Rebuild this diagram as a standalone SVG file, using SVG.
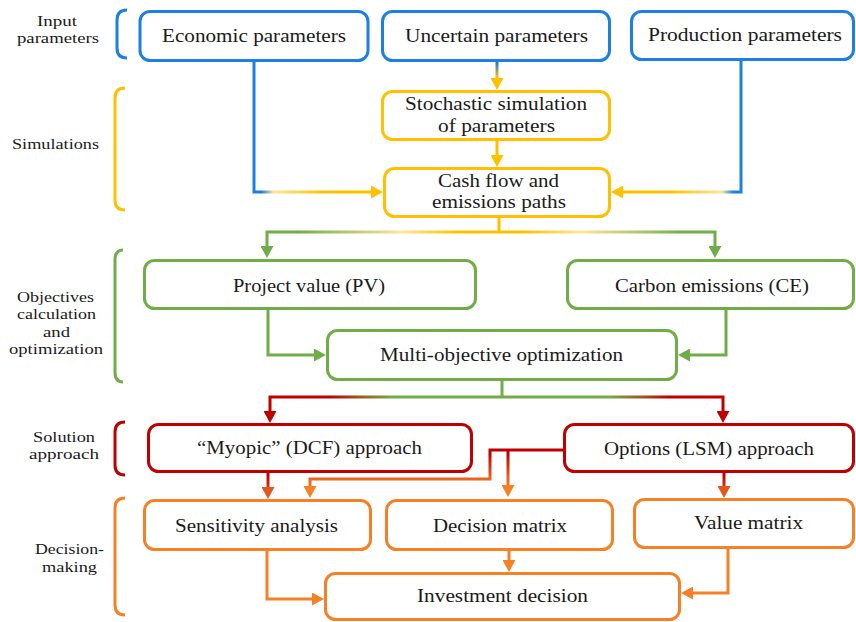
<svg xmlns="http://www.w3.org/2000/svg" width="856" height="622" viewBox="0 0 856 622">
<style>
.box{fill:#fff;stroke-width:3}
.b{stroke:#1C7FE3}.y{stroke:#FFC000}.g{stroke:#70AD47}.r{stroke:#C00000}.o{stroke:#F58025}
.t{font-family:"Liberation Serif","Times New Roman",serif;font-size:19px;fill:#1a1a1a;text-anchor:middle}
.l{font-family:"Liberation Serif","Times New Roman",serif;font-size:15px;fill:#1a1a1a;text-anchor:middle}
.br{fill:none;stroke-width:3}
.c{fill:none;stroke-width:3}
</style>
<defs>
<marker id="aY" markerUnits="userSpaceOnUse" markerWidth="12" markerHeight="13" refX="5" refY="6.5" orient="auto-start-reverse"><path d="M0,0 L12,6.5 L0,13 z" fill="#FFC000"/></marker>
<marker id="aG" markerUnits="userSpaceOnUse" markerWidth="12" markerHeight="13" refX="5" refY="6.5" orient="auto-start-reverse"><path d="M0,0 L12,6.5 L0,13 z" fill="#70AD47"/></marker>
<marker id="aR" markerUnits="userSpaceOnUse" markerWidth="12" markerHeight="13" refX="5" refY="6.5" orient="auto-start-reverse"><path d="M0,0 L12,6.5 L0,13 z" fill="#C00000"/></marker>
<marker id="aO" markerUnits="userSpaceOnUse" markerWidth="12" markerHeight="13" refX="5" refY="6.5" orient="auto-start-reverse"><path d="M0,0 L12,6.5 L0,13 z" fill="#F58025"/></marker>
<marker id="aRO" markerUnits="userSpaceOnUse" markerWidth="12" markerHeight="13" refX="5" refY="6.5" orient="auto-start-reverse"><path d="M0,0 L12,6.5 L0,13 z" fill="#E4561C"/></marker>
<linearGradient id="gEcon" gradientUnits="userSpaceOnUse" x1="254" y1="0" x2="383" y2="0">
<stop offset="0.06" stop-color="#1C7FE3"/><stop offset="0.15" stop-color="#FFE699"/><stop offset="0.55" stop-color="#FFC000"/></linearGradient>
<linearGradient id="gProd" gradientUnits="userSpaceOnUse" x1="741" y1="0" x2="611" y2="0">
<stop offset="0.06" stop-color="#1C7FE3"/><stop offset="0.15" stop-color="#FFE699"/><stop offset="0.55" stop-color="#FFC000"/></linearGradient>
<linearGradient id="gUnc" gradientUnits="userSpaceOnUse" x1="0" y1="61" x2="0" y2="84">
<stop offset="0.1" stop-color="#1C7FE3"/><stop offset="0.7" stop-color="#FFC000"/></linearGradient>
<linearGradient id="gCash" gradientUnits="userSpaceOnUse" x1="267" y1="0" x2="715" y2="0">
<stop offset="0.07" stop-color="#70AD47"/><stop offset="0.3" stop-color="#FFE699"/><stop offset="0.43" stop-color="#FFC000"/><stop offset="0.57" stop-color="#FFC000"/><stop offset="0.7" stop-color="#FFE699"/><stop offset="0.93" stop-color="#70AD47"/></linearGradient>
<linearGradient id="gMulti" gradientUnits="userSpaceOnUse" x1="270" y1="0" x2="723" y2="0">
<stop offset="0.13" stop-color="#C00000"/><stop offset="0.2" stop-color="#9C5A1E"/><stop offset="0.27" stop-color="#70AD47"/><stop offset="0.75" stop-color="#70AD47"/><stop offset="0.82" stop-color="#9C5A1E"/><stop offset="0.88" stop-color="#C00000"/></linearGradient>
<linearGradient id="gRO" gradientUnits="userSpaceOnUse" x1="0" y1="473" x2="0" y2="495">
<stop offset="0.1" stop-color="#C00000"/><stop offset="1" stop-color="#E4561C"/></linearGradient>
<linearGradient id="gOpt" gradientUnits="userSpaceOnUse" x1="0" y1="450" x2="0" y2="494">
<stop offset="0.1" stop-color="#C00000"/><stop offset="0.6" stop-color="#E8601E"/><stop offset="1" stop-color="#F58025"/></linearGradient>
</defs>

<g id="brackets">
<path class="br b" d="M127,10 Q117,10 117,20 L117,48 Q117,58 127,58"/>
<path class="br y" d="M125,88 Q115,88 115,98 L115,200 Q115,210 125,210"/>
<path class="br g" d="M123,250 Q115,250 115,260 L115,372 Q115,382 123,382"/>
<path class="br r" d="M125,422 Q115,422 115,432 L115,465 Q115,475 125,475"/>
<path class="br o" d="M125,498 Q115,498 115,508 L115,605 Q115,615 125,615"/>
</g>

<g id="labels">
<text class="l" x="57" y="26" textLength="40" lengthAdjust="spacingAndGlyphs">Input</text>
<text class="l" x="58" y="43" textLength="82" lengthAdjust="spacingAndGlyphs">parameters</text>
<text class="l" x="55.5" y="149" textLength="87" lengthAdjust="spacingAndGlyphs">Simulations</text>
<text class="l" x="55.5" y="302" textLength="77" lengthAdjust="spacingAndGlyphs">Objectives</text>
<text class="l" x="56.5" y="319" textLength="79" lengthAdjust="spacingAndGlyphs">calculation</text>
<text class="l" x="56.5" y="337" textLength="27" lengthAdjust="spacingAndGlyphs">and</text>
<text class="l" x="56" y="354" textLength="94" lengthAdjust="spacingAndGlyphs">optimization</text>
<text class="l" x="64" y="442" textLength="62" lengthAdjust="spacingAndGlyphs">Solution</text>
<text class="l" x="64" y="459" textLength="70" lengthAdjust="spacingAndGlyphs">approach</text>
<text class="l" x="69.5" y="554" textLength="69" lengthAdjust="spacingAndGlyphs">Decision-</text>
<text class="l" x="69.5" y="572" textLength="55" lengthAdjust="spacingAndGlyphs">making</text>
</g>

<g id="connectors">
<path class="c" stroke="url(#gEcon)" d="M254,61 V192 H376" marker-end="url(#aY)"/>
<path class="c" stroke="url(#gProd)" d="M741,60 V192 H618" marker-end="url(#aY)"/>
<path class="c" stroke="url(#gUnc)" d="M497,61 V83" marker-end="url(#aY)"/>
<path class="c y" d="M497,141 V160" marker-end="url(#aY)"/>
<path class="c" stroke="url(#gCash)" d="M499,218 V232"/>
<path class="c" stroke="url(#gCash)" d="M267,251 V232 H715 V251" marker-start="url(#aG)" marker-end="url(#aG)"/>
<path class="c g" d="M268,310 V355 H319" marker-end="url(#aG)"/>
<path class="c g" d="M726,310 V355 H685" marker-end="url(#aG)"/>
<path class="c" stroke="url(#gMulti)" d="M502,381 V397"/>
<path class="c" stroke="url(#gMulti)" d="M270,416 V397 H723 V416" marker-start="url(#aR)" marker-end="url(#aR)"/>
<path class="c" stroke="url(#gRO)" d="M268,473 V492" marker-end="url(#aRO)"/>
<path class="c" stroke="url(#gRO)" d="M724,473 V491" marker-end="url(#aRO)"/>
<path class="c" stroke="url(#gOpt)" d="M563,450 H490 V479 H310 V491" marker-end="url(#aO)"/>
<path class="c" stroke="url(#gOpt)" d="M508,450 V490" marker-end="url(#aO)"/>
<path class="c o" d="M267,551 V599 H317" marker-end="url(#aO)"/>
<path class="c o" d="M509,551 V565" marker-end="url(#aO)"/>
<path class="c o" d="M728,549 V593 H688" marker-end="url(#aO)"/>
</g>

<g id="economic"><rect class="box b" x="140" y="11.5" width="228" height="49" rx="10"/><text class="t" x="254" y="42" textLength="184" lengthAdjust="spacingAndGlyphs">Economic parameters</text></g>
<g id="uncertain"><rect class="box b" x="382.5" y="11.5" width="227" height="49" rx="10"/><text class="t" x="496.5" y="42" textLength="183" lengthAdjust="spacingAndGlyphs">Uncertain parameters</text></g>
<g id="production"><rect class="box b" x="631.5" y="11.5" width="222" height="48" rx="10"/><text class="t" x="745" y="41" textLength="194" lengthAdjust="spacingAndGlyphs">Production parameters</text></g>
<g id="stochastic"><rect class="box y" x="382.5" y="91.5" width="227" height="48" rx="10"/><text class="t" x="496" y="110" textLength="182" lengthAdjust="spacingAndGlyphs">Stochastic simulation</text><text class="t" x="496.5" y="132" textLength="117" lengthAdjust="spacingAndGlyphs">of parameters</text></g>
<g id="cashflow"><rect class="box y" x="384.5" y="168.5" width="225" height="48" rx="10"/><text class="t" x="498.5" y="187" textLength="121" lengthAdjust="spacingAndGlyphs">Cash flow and</text><text class="t" x="499" y="208" textLength="134" lengthAdjust="spacingAndGlyphs">emissions paths</text></g>
<g id="pv"><rect class="box g" x="144.5" y="260.5" width="331" height="48" rx="10"/><text class="t" x="309" y="292" textLength="152" lengthAdjust="spacingAndGlyphs">Project value (PV)</text></g>
<g id="ce"><rect class="box g" x="567.5" y="260.5" width="286" height="48" rx="10"/><text class="t" x="712" y="292" textLength="194" lengthAdjust="spacingAndGlyphs">Carbon emissions (CE)</text></g>
<g id="multi"><rect class="box g" x="327.5" y="330.5" width="349" height="49" rx="10"/><text class="t" x="501.5" y="361" textLength="243" lengthAdjust="spacingAndGlyphs">Multi-objective optimization</text></g>
<g id="myopic"><rect class="box r" x="148.5" y="424.5" width="323" height="47" rx="10"/><text class="t" x="309.5" y="454" textLength="225" lengthAdjust="spacingAndGlyphs">“Myopic” (DCF) approach</text></g>
<g id="options"><rect class="box r" x="564.5" y="424.5" width="289" height="47" rx="10"/><text class="t" x="709" y="455" textLength="210" lengthAdjust="spacingAndGlyphs">Options (LSM) approach</text></g>
<g id="sensitivity"><rect class="box o" x="144.5" y="500.5" width="226" height="49" rx="10"/><text class="t" x="256.5" y="532" textLength="163" lengthAdjust="spacingAndGlyphs">Sensitivity analysis</text></g>
<g id="decisionmatrix"><rect class="box o" x="386.5" y="500.5" width="226" height="49" rx="10"/><text class="t" x="500" y="532" textLength="134" lengthAdjust="spacingAndGlyphs">Decision matrix</text></g>
<g id="valuematrix"><rect class="box o" x="634.5" y="499.5" width="219" height="48" rx="10"/><text class="t" x="748.5" y="529" textLength="109" lengthAdjust="spacingAndGlyphs">Value matrix</text></g>
<g id="investment"><rect class="box o" x="325.5" y="573.5" width="354" height="46" rx="10"/><text class="t" x="502.5" y="602" textLength="171" lengthAdjust="spacingAndGlyphs">Investment decision</text></g>
</svg>
